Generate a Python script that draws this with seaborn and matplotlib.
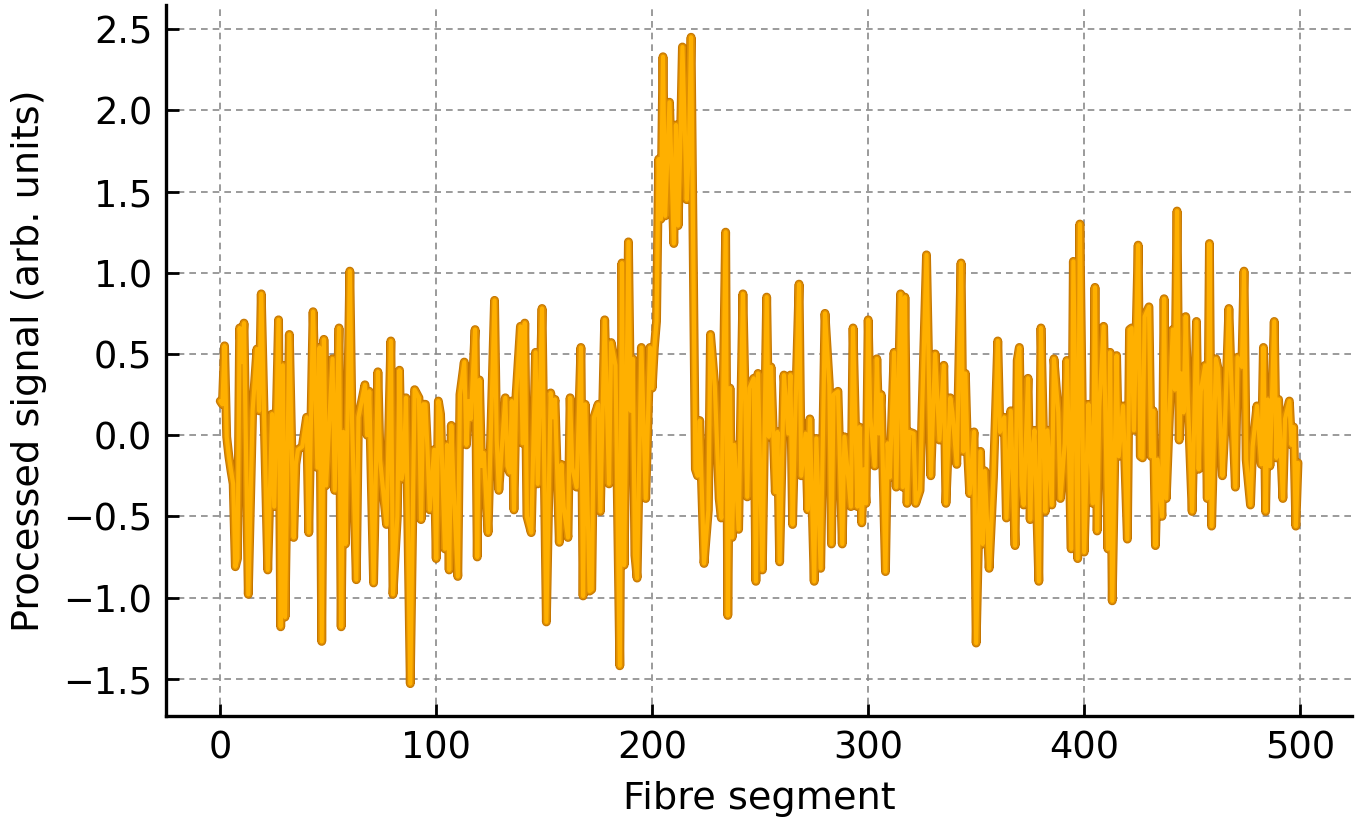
import numpy as np
import pandas as pd
import matplotlib
matplotlib.use("Agg")
import matplotlib.pyplot as plt
import matplotlib.patheffects as pe
import seaborn as sns

# values (segment index, processed signal)
segment = [
    0, 1, 2, 3, 4, 5, 6, 7, 8, 9, 10, 11, 13, 15, 17, 18, 19, 22, 24, 25,
    27, 28, 29, 30, 32, 34, 35, 36, 38, 40, 41, 43, 45, 46, 47, 48,
    49, 52, 53, 55, 56, 57, 58, 60, 61, 63, 64, 67, 68, 69, 71, 73, 74, 77,
    79, 80, 82, 83, 84, 85, 86, 88, 90, 92, 93, 94, 95,
    96, 97, 99, 100, 101, 102, 104, 105, 106, 107, 108, 110, 111, 113, 114,
    115, 116, 118, 119, 120, 121, 122, 124, 127, 128, 129, 132, 133, 134,
    135, 136, 137, 139, 140, 141, 142, 144, 146, 147,
    149, 151, 153, 154, 155, 157, 158, 159, 161, 162, 163, 165, 167, 168,
    169, 171, 172, 173, 175, 176, 178, 180, 181, 183, 185, 186, 187, 188,
    189, 190, 191, 192, 193, 195, 197,
    199, 200, 201, 202, 203, 204, 205, 206, 208, 210, 211, 212, 213, 214,
    216, 217, 218, 220, 221, 222, 224, 226, 227, 229, 231, 232, 234, 235,
    236, 237, 238, 240, 242, 244, 245, 247, 248,
    249, 251, 253, 254, 255, 257, 258, 259, 261, 263, 264, 265, 266, 268,
    269, 271, 272, 273, 275, 276, 278, 280, 282, 283, 284, 286, 288, 289,
    292, 293, 295, 296, 297,
    298, 299, 300, 301, 303, 304, 305, 306, 308, 309, 310, 312, 313, 315,
    316, 317, 318, 319, 321, 322, 324, 325, 327, 329, 331, 333, 335, 336,
    338, 339, 341, 343, 344, 345, 346, 347,
    349, 350, 352, 353, 354, 356, 358, 360, 361, 363, 364, 366, 368, 369,
    370, 371, 372, 374, 375, 376, 377, 379, 380, 382, 383, 385, 386, 388,
    389, 391, 392, 394, 395, 397, 398,
    400, 402, 403, 404, 405, 406, 407, 409, 411, 412, 413, 415, 416, 418,
    420, 421, 422, 423, 425, 426, 427, 428, 430, 431, 432, 433, 434, 436,
    437, 438, 441, 442, 443, 444, 445, 446, 447,
    448, 450, 452, 453, 454, 456, 457, 458, 459, 461, 462, 464, 465, 467,
    468, 470, 471, 473, 474, 475, 477, 478, 480, 482, 483, 484, 485, 486,
    488, 489, 490, 492, 493, 495, 496, 497, 498, 499,
]

signal = [
    0.21, 0.19, 0.55, -0.01, -0.13, -0.22, -0.30, -0.81, -0.76, 0.66, 0.45, 0.69, -0.98, 0.15, 0.53, 0.15, 0.87, -0.83, 0.13, -0.44,
    0.71, -1.18, 0.43, -1.12, 0.62, -0.63, -0.18, -0.09, -0.07, 0.11, -0.60, 0.76, -0.20, 0.54, -1.27, 0.59,
    -0.31, 0.47, -0.34, 0.66, -1.18, 0.02, -0.67, 1.01, 0.10, -0.89, 0.11, 0.31, 0.00, 0.27, -0.91, 0.39, -0.15, -0.55,
    0.58, -0.98, -0.50, 0.40, -0.27, -0.20, 0.23, -1.53, 0.28, 0.23, -0.52, 0.19, 0.19,
    -0.10, -0.46, -0.09, -0.76, 0.21, 0.13, -0.70, -0.06, -0.83, 0.06, -0.31, -0.87, 0.25, 0.45, -0.06,
    0.21, 0.10, 0.65, -0.75, 0.34, -0.19, -0.11, -0.60, 0.83, -0.03, -0.34, 0.23, -0.19, -0.23,
    0.21, -0.46, 0.25, 0.67, -0.05, 0.69, -0.50, -0.60, 0.51, -0.30,
    0.78, -1.15, 0.26, 0.11, 0.22, -0.66, -0.18, -0.44, -0.63, 0.23, -0.20, -0.32, 0.54, -0.99,
    0.19, -0.96, -0.95, 0.11, 0.19, -0.47, 0.71, -0.30, 0.57, 0.43, -1.42, 1.06, -0.80, 0.15,
    1.19, 0.15, 0.47, -0.74, -0.88, 0.54, -0.39,
    0.54, 0.29, 0.54, 0.70, 1.70, 1.33, 2.33, 1.35, 2.05, 1.18, 1.91, 1.29, 1.77, 2.39,
    1.45, 1.77, 2.45, -0.21, -0.25, 0.09, -0.79, -0.46, 0.62, 0.30, -0.39, -0.51, 1.25, -1.11,
    0.29, -0.63, -0.06, -0.58, 0.87, -0.38, 0.29, 0.35, -0.90,
    0.38, -0.83, 0.85, -0.01, 0.42, -0.35, 0.02, -0.78, 0.37, 0.01, 0.37, -0.55, 0.00, 0.93,
    -0.25, 0.01, -0.46, 0.10, -0.90, -0.02, -0.82, 0.75, 0.31, -0.67, 0.25, 0.27, -0.67, -0.01,
    -0.44, 0.66, -0.44, 0.05, -0.54,
    -0.21, -0.42, 0.71, 0.11, -0.19, 0.47, 0.01, 0.25, -0.84, -0.05, -0.26, 0.51, -0.32, 0.87,
    -0.32, 0.85, -0.42, 0.02, 0.01, -0.42, -0.34, 0.17, 1.11, -0.25, 0.50, -0.03, 0.43, -0.42,
    0.23, 0.14, -0.18, 1.06, -0.10, 0.38, -0.10, -0.36,
    0.02, -1.28, -0.10, -0.67, -0.22, -0.82, -0.26, 0.58, 0.02, 0.11, -0.51, 0.15, -0.68, 0.46,
    0.54, -0.31, -0.43, 0.35, -0.52, -0.10, 0.03, -0.90, 0.66, -0.47, 0.03, -0.43, 0.47, 0.14,
    -0.39, -0.05, 0.46, -0.70, 1.07, -0.76, 1.30,
    -0.72, 0.19, -0.13, -0.42, 0.91, -0.59, 0.17, 0.67, -0.70, 0.51, -1.02, 0.49, -0.13, 0.18,
    -0.64, 0.65, 0.66, 0.03, 1.17, -0.13, -0.14, 0.73, 0.79, -0.13, 0.15, -0.68, -0.15, -0.50,
    0.84, -0.39, 0.65, 0.28, 1.38, -0.03, 0.38, 0.14, 0.73,
    0.22, -0.47, 0.70, -0.21, 0.27, 0.43, -0.39, 1.18, -0.56, 0.47, 0.41, -0.25, 0.01, 0.78,
    0.38, -0.32, 0.48, 0.42, 1.01, -0.15, -0.43, -0.07, 0.18, -0.18, 0.54, -0.47, 0.22, -0.19,
    0.70, -0.14, 0.22, -0.39, 0.10, 0.21, -0.06, 0.05, -0.56, -0.17,
]

df = pd.DataFrame({"segment": segment, "signal": signal})

sns.set_style("ticks")
plt.rcParams["font.family"] = ["DejaVu Sans"]
plt.rcParams["text.color"] = "black"
plt.rcParams["axes.labelcolor"] = "black"
plt.rcParams["xtick.color"] = "black"
plt.rcParams["ytick.color"] = "black"

fig = plt.figure(figsize=(13.69, 8.22), dpi=100)
ax = fig.add_axes([0.1215, 0.129, 0.866, 0.865])

# darker rim + bright core, as in the reference trace
glow = [
    pe.Stroke(linewidth=6.4, foreground="#C47500"),
    pe.Stroke(linewidth=5.0, foreground="#DF8E00"),
    pe.Normal(),
]
sns.lineplot(data=df, x="segment", y="signal", ax=ax, color="#FFB000",
             linewidth=3.0, path_effects=glow, zorder=3)

ax.set_axisbelow(True)
ax.grid(True, linestyle=(0, (4, 3)), color="#8a8a8a", linewidth=1.2)

sns.despine(ax=ax)
for side in ["left", "bottom"]:
    ax.spines[side].set_linewidth(2.4)
    ax.spines[side].set_color("black")

ax.set_yticks([-1.5, -1.0, -0.5, 0.0, 0.5, 1.0, 1.5, 2.0, 2.5])
ax.tick_params(direction="in", length=9, width=2, labelsize=26.5, pad=10,
               colors="black")
ax.set_xlabel("Fibre segment", fontsize=27.5, labelpad=10)
ax.set_ylabel("Processed signal (arb. units)", fontsize=27.5, labelpad=12)

fig.savefig("out.png", dpi=100)
